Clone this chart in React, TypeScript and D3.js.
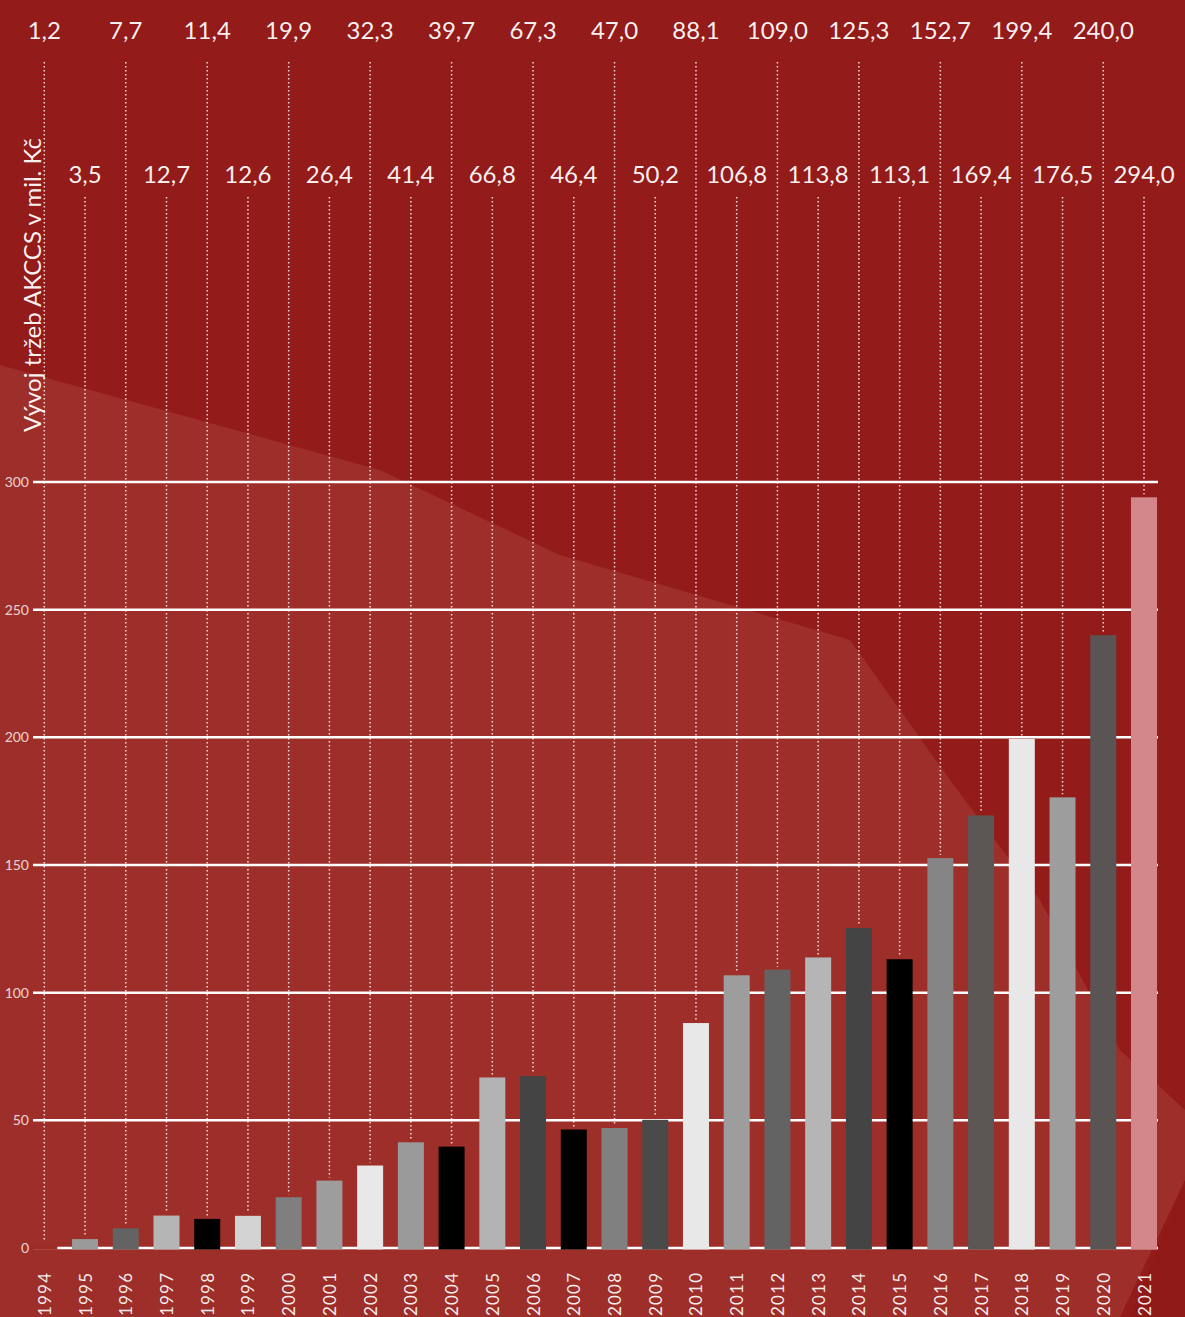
import React from "react";
import * as d3 from "d3";

const years = [1994,1995,1996,1997,1998,1999,2000,2001,2002,2003,2004,2005,2006,2007,2008,2009,2010,2011,2012,2013,2014,2015,2016,2017,2018,2019,2020,2021];
const revenue = [1.2,3.5,7.7,12.7,11.4,12.6,19.9,26.4,32.3,41.4,39.7,66.8,67.3,46.4,47.0,50.2,88.1,106.8,109.0,113.8,125.3,113.1,152.7,169.4,199.4,176.5,240.0,294.0];
const barColors = ["#9d2c29","#9a9a9a","#636363","#b5b5b5","#000000","#d3d3d3","#7f7f7f","#9d9d9d","#e8e8e8","#9a9a9a","#000000","#b3b3b3","#444444","#000000","#808080","#4a4a4a","#e8e8e8","#9d9d9d","#636363","#b5b5b5","#444444","#000000","#858585","#5c5655","#e8e8e8","#9d9d9d","#5a5554","#d4878a"];
const yTicks = [0,50,100,150,200,250,300];
const axisTitle = "Vývoj tržeb AKCCS v mil. Kč";

const W = 1185, H = 1317;
const FONT = "Lato, 'Open Sans', sans-serif";

export default function App() {
  const x = d3.scalePoint<number>().domain(years).range([44.3, 1144]);
  const y = d3.scaleLinear().domain([0, 300]).range([1248, 482]);
  const barW = 26;
  const fmt = (v: number) => v.toFixed(1).replace(".", ",");

  return (
    <svg width={W} height={H} style={{ position: "absolute", left: 0, top: 0, overflow: "hidden" }}
      fontFamily={FONT}>
      <rect x={0} y={0} width={W} height={H} fill="#931b1a" />
      {/* background texture */}
      <path d="M0,365 L380,470 L560,555 L850,640 L950,780 L1040,900 L1120,1050 L1185,1110 L1185,1180 L1120,1317 L0,1317 Z" fill="#9e2e2a" />
      <path d="M1130,1317 L1185,1180 L1185,1317 Z" fill="#8f1917" opacity={0.9} />

      {/* gridlines */}
      {yTicks.map(t => (
        <g key={t}>
          <line x1={33} x2={1158} y1={y(t)} y2={y(t)} stroke="#ffffff" strokeWidth={2.5} />
          <text x={29} y={y(t)} dy="0.35em" textAnchor="end" fontSize={14} fill="#ffffff" fillOpacity={0.8}>{t}</text>
        </g>
      ))}

      {/* dotted leader lines */}
      {years.map((yr, i) => {
        const top = i % 2 === 0 ? 62 : 197;
        return (
          <line key={"d" + yr} x1={x(yr)} x2={x(yr)} y1={top} y2={y(revenue[i]) - 3}
            stroke="#ffffff" strokeOpacity={0.85} strokeWidth={1.5} strokeDasharray="1.5,2.5" />
        );
      })}

      {/* bars */}
      {years.map((yr, i) => (
        <rect key={"b" + yr} x={(x(yr) as number) - barW / 2} y={y(revenue[i])} width={barW}
          height={y(0) - y(revenue[i]) + 1.5} fill={barColors[i]} />
      ))}

      {/* value labels */}
      {years.map((yr, i) => (
        <text key={"v" + yr} x={x(yr)} y={i % 2 === 0 ? 39 : 183} textAnchor="middle" fontSize={24}
          fill="#ffffff" fillOpacity={0.95}>{fmt(revenue[i])}</text>
      ))}

      {/* year labels */}
      {years.map(yr => (
        <text key={"y" + yr} transform={`translate(${x(yr)},1316) rotate(-90)`} textAnchor="start"
          dominantBaseline="central" fontSize={17} letterSpacing={1.2} fill="#ffffff" fillOpacity={0.92}>{yr}</text>
      ))}

      {/* axis title */}
      <text transform="translate(41,432) rotate(-90)" textAnchor="start" fontSize={24} fill="#ffffff" fillOpacity={0.95}>{axisTitle}</text>
    </svg>
  );
}
